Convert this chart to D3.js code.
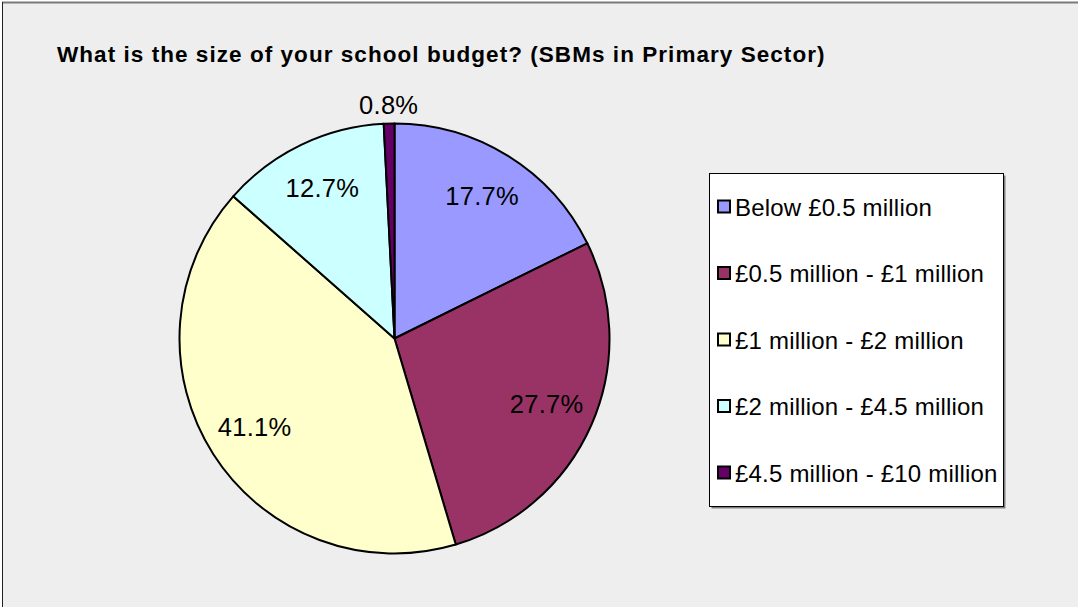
<!DOCTYPE html>
<html>
<head>
<meta charset="utf-8">
<script src="https://cdn.jsdelivr.net/npm/d3@7"></script>
<style>
  html, body { margin: 0; padding: 0; background: #ffffff; }
  svg { display: block; font-family: "Liberation Sans", Arial, sans-serif; }
</style>
</head>
<body>
<svg id="chart" width="1078" height="607"></svg>
<script>
// Budget bands and the share of primary-sector SBMs in each (%)
const categories = [
  "Below £0.5 million",
  "£0.5 million - £1 million",
  "£1 million - £2 million",
  "£2 million - £4.5 million",
  "£4.5 million - £10 million"
];
const shares = [17.7, 27.7, 41.1, 12.7, 0.8];
const colours = ["#9999ff", "#993366", "#ffffcc", "#ccffff", "#660066"];
const title = "What is the size of your school budget? (SBMs in Primary Sector)";

const svg = d3.select("#chart");
const W = 1078, H = 607;

// Chart area background and frame
svg.append("rect")
  .attr("x", 2).attr("y", 2).attr("width", W).attr("height", H)
  .attr("fill", "#eeeeee");
svg.append("line")
  .attr("x1", 2).attr("x2", W).attr("y1", 2.5).attr("y2", 2.5)
  .attr("stroke", "#7a7a7a").attr("stroke-width", 2);
svg.append("line")
  .attr("x1", 2.5).attr("x2", 2.5).attr("y1", 2).attr("y2", H)
  .attr("stroke", "#222").attr("stroke-width", 1);

// Title
svg.append("text")
  .attr("x", 57).attr("y", 62)
  .attr("font-size", 22.5)
  .attr("font-weight", "bold")
  .attr("fill", "#000")
  .attr("letter-spacing", 1.05)
  .text(title);

// Pie
const cx = 394.5, cy = 338.5, r = 215;
const g = svg.append("g").attr("transform", `translate(${cx},${cy})`);

const pie = d3.pie().sort(null).value(d => d.value);
const data = pie(categories.map((c, i) => ({ name: c, value: shares[i], colour: colours[i] })));

const arc = d3.arc().innerRadius(0).outerRadius(r);
g.selectAll("path.slice")
  .data(data)
  .join("path")
  .attr("class", "slice")
  .attr("d", arc)
  .attr("fill", d => d.data.colour)
  .attr("stroke", "#000")
  .attr("stroke-width", 2)
  .attr("stroke-linejoin", "round");

// Value labels: inside for normal slices, just outside the rim for tiny ones
const inside = d3.arc().innerRadius(166).outerRadius(166);
const outside = d3.arc().innerRadius(232).outerRadius(232);
g.selectAll("text.pct")
  .data(data)
  .join("text")
  .attr("class", "pct")
  .attr("transform", d => {
    const [x, y] = (d.data.value < 2 ? outside : inside).centroid(d);
    return `translate(${x},${y})`;
  })
  .attr("text-anchor", "middle")
  .attr("dy", "0.3em")
  .attr("font-size", 25.5)
  .attr("letter-spacing", 0.3)
  .attr("fill", "#000")
  .text(d => d3.format(".1f")(d.data.value) + "%");

// Legend
const lx = 709.5, ly = 173.5, lw = 294, lh = 333;
svg.append("rect")
  .attr("x", lx + 2).attr("y", ly + 2).attr("width", lw).attr("height", lh)
  .attr("fill", "#808080");
svg.append("rect")
  .attr("x", lx).attr("y", ly).attr("width", lw).attr("height", lh)
  .attr("fill", "#ffffff").attr("stroke", "#000").attr("stroke-width", 1);

const rowY = d3.scalePoint().domain(categories).range([207, 473]);
const items = svg.selectAll("g.item")
  .data(categories.map((c, i) => ({ name: c, colour: colours[i] })))
  .join("g")
  .attr("class", "item")
  .attr("transform", d => `translate(0,${rowY(d.name)})`);
items.append("rect")
  .attr("x", 718).attr("y", -6.5).attr("width", 12).attr("height", 12)
  .attr("fill", d => d.colour)
  .attr("stroke", "#000").attr("stroke-width", 2);
items.append("text")
  .attr("x", 735).attr("dy", "0.36em")
  .attr("font-size", 24)
  .attr("letter-spacing", 0.2)
  .attr("fill", "#000")
  .text(d => d.name);
</script>
</body>
</html>
